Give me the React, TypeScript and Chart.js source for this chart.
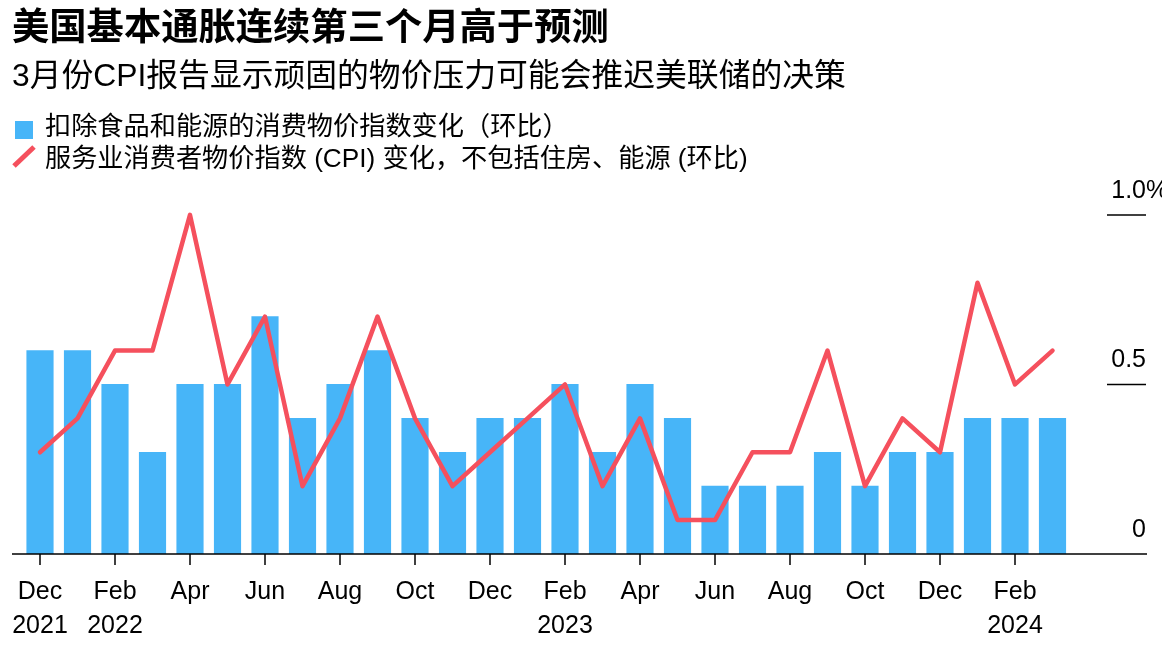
import React, { useEffect, useRef } from "react";
import { Chart, registerables } from "chart.js";

Chart.register(...registerables);

const months = [
  "Dec", "Jan", "Feb", "Mar", "Apr", "May", "Jun", "Jul", "Aug", "Sep", "Oct", "Nov",
  "Dec", "Jan", "Feb", "Mar", "Apr", "May", "Jun", "Jul", "Aug", "Sep", "Oct", "Nov",
  "Dec", "Jan", "Feb", "Mar",
];
const years = [
  "2021", "", "2022", "", "", "", "", "", "", "", "", "",
  "", "", "2023", "", "", "", "", "", "", "", "", "",
  "", "", "2024", "",
];
const coreCpi = [
  0.6, 0.6, 0.5, 0.3, 0.5, 0.5, 0.7, 0.4, 0.5, 0.6, 0.4, 0.3,
  0.4, 0.4, 0.5, 0.3, 0.5, 0.4, 0.2, 0.2, 0.2, 0.3, 0.2, 0.3,
  0.3, 0.4, 0.4, 0.4,
];
const superCore = [
  0.3, 0.4, 0.6, 0.6, 1.0, 0.5, 0.7, 0.2, 0.4, 0.7, 0.4, 0.2,
  0.3, 0.4, 0.5, 0.2, 0.4, 0.1, 0.1, 0.3, 0.3, 0.6, 0.2, 0.4,
  0.3, 0.8, 0.5, 0.6,
];
const yTicks = [0, 0.5, 1.0];
const yTickLabels = ["0", "0.5", "1.0"];

const title = "美国基本通胀连续第三个月高于预测";
const subtitle = "3月份CPI报告显示顽固的物价压力可能会推迟美联储的决策";
const legendBar = "扣除食品和能源的消费物价指数变化（环比）";
const legendLine = "服务业消费者物价指数 (CPI) 变化，不包括住房、能源 (环比)";

const FONT = '"Liberation Sans", "Noto Sans CJK SC", sans-serif';
const BAR_COLOR = "#47b5f8";
const LINE_COLOR = "#f5505d";

const axesPlugin = {
  id: "customAxes",
  afterDatasetsDraw(chart: any) {
    const ctx = chart.ctx;
    const x = chart.scales.x;
    const y = chart.scales.y;
    const y0 = y.getPixelForValue(0);
    ctx.save();
    ctx.strokeStyle = "#000";
    ctx.lineWidth = 1.5;
    ctx.beginPath();
    ctx.moveTo(12, y0);
    ctx.lineTo(1147, y0);
    ctx.stroke();
    ctx.fillStyle = "#000";
    ctx.font = `25px ${FONT}`;
    ctx.textAlign = "center";
    ctx.textBaseline = "middle";
    for (let i = 0; i < months.length; i += 2) {
      const px = x.getPixelForValue(i);
      ctx.beginPath();
      ctx.moveTo(px, y0);
      ctx.lineTo(px, y0 + 11);
      ctx.stroke();
      ctx.fillText(months[i], px, y0 + 38);
      if (years[i]) ctx.fillText(years[i], px, y0 + 72);
    }
    yTicks.forEach((v, i) => {
      const py = y.getPixelForValue(v);
      if (v !== 0) {
        ctx.beginPath();
        ctx.moveTo(1107, py);
        ctx.lineTo(1146, py);
        ctx.stroke();
      }
      ctx.textAlign = "right";
      ctx.fillText(yTickLabels[i], 1146, py - 24);
      if (i === yTicks.length - 1) {
        ctx.textAlign = "left";
        ctx.fillText("%", 1146, py - 24);
      }
    });
    ctx.restore();
  },
};

export default function App() {
  const ref = useRef<HTMLCanvasElement>(null);
  useEffect(() => {
    if (!ref.current) return;
    const chart = new Chart(ref.current, {
      type: "bar",
      data: {
        labels: months,
        datasets: [
          {
            type: "line",
            label: legendLine,
            data: superCore,
            borderColor: LINE_COLOR,
            borderWidth: 4.5,
            pointRadius: 0,
            tension: 0,
            borderJoinStyle: "round",
            borderCapStyle: "round",
            order: 0,
          } as any,
          {
            type: "bar",
            label: legendBar,
            data: coreCpi,
            backgroundColor: BAR_COLOR,
            barThickness: 26.5,
            order: 1,
          },
        ],
      },
      options: {
        responsive: false,
        animation: false,
        devicePixelRatio: 1,
        layout: { padding: { left: 21.25, right: 90.75, top: 181, bottom: 100 } },
        plugins: { legend: { display: false }, tooltip: { enabled: false } },
        scales: {
          x: { display: false, offset: true },
          y: { display: false, min: 0, max: 1.1 },
        },
      },
      plugins: [axesPlugin],
    });
    return () => chart.destroy();
  }, []);

  const text: React.CSSProperties = {
    position: "absolute",
    left: 12,
    whiteSpace: "nowrap",
    fontFamily: FONT,
    color: "#000",
    lineHeight: 1,
  };

  return (
    <div style={{ position: "absolute", left: 0, top: 0, width: 1162, height: 654, background: "#fff", overflow: "hidden" }}>
      <canvas ref={ref} width={1162} height={654} style={{ position: "absolute", left: 0, top: 0 }} />
      <div style={{ ...text, top: 9, fontSize: 37.3, fontWeight: 700 }}>{title}</div>
      <div style={{ ...text, top: 60, fontSize: 31.8 }}>{subtitle}</div>
      <div style={{ position: "absolute", left: 15, top: 121, width: 18, height: 18, background: BAR_COLOR }} />
      <div style={{ ...text, left: 45, top: 113, fontSize: 26.2 }}>{legendBar}</div>
      <svg style={{ position: "absolute", left: 0, top: 140 }} width={40} height={34}>
        <line x1={14} y1={26} x2={34} y2={7} stroke={LINE_COLOR} strokeWidth={5} />
      </svg>
      <div style={{ ...text, left: 45, top: 145, fontSize: 26.2 }}>{legendLine}</div>
    </div>
  );
}
